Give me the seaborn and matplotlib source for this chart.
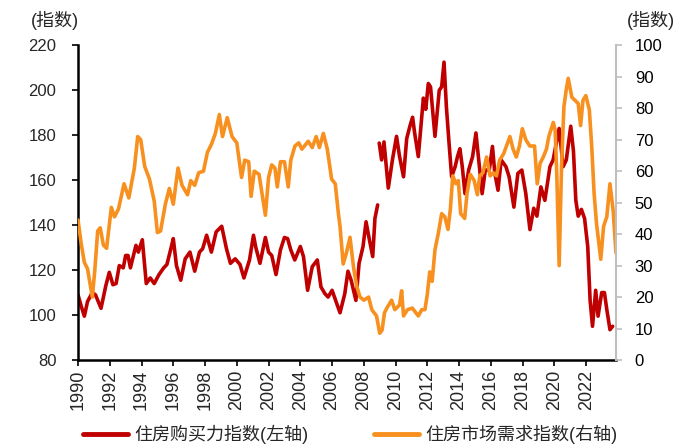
import matplotlib
matplotlib.use("Agg")
import matplotlib.pyplot as plt
from matplotlib.lines import Line2D
import numpy as np
import pandas as pd
import seaborn as sns

# 住房购买力指数 (left axis), decimal years; NaN marks the break in 2008/2009
red_years = [1990.0, 1990.2, 1990.4, 1990.6, 1990.9, 1991.1, 1991.45, 1991.75, 1991.97, 1992.2,
             1992.4, 1992.6, 1992.85, 1993.0, 1993.15, 1993.3, 1993.65, 1993.8, 1994.05, 1994.3,
             1994.55, 1994.8, 1995.1, 1995.4, 1995.6, 1995.9, 1996.0, 1996.2, 1996.47, 1996.75,
             1997.05, 1997.35, 1997.65, 1997.85, 1998.1, 1998.4, 1998.7, 1999.05, 1999.35, 1999.6,
             1999.9, 2000.2, 2000.45, 2000.8, 2001.05, 2001.2, 2001.46, 2001.8, 2002.0, 2002.2,
             2002.47, 2002.75, 2003.0, 2003.2, 2003.4, 2003.65, 2004.0, 2004.2, 2004.46, 2004.75,
             2005.07, 2005.3, 2005.55, 2005.75, 2006.0, 2006.3, 2006.5, 2006.8, 2007.0, 2007.2,
             2007.5, 2007.7, 2007.95, 2008.14, 2008.35, 2008.56, 2008.7, 2008.87, 2008.92, 2008.97,
             2009.12, 2009.27, 2009.54, 2009.8, 2010.06, 2010.25, 2010.5, 2010.7, 2010.9, 2011.07,
             2011.2, 2011.43, 2011.75, 2011.9, 2012.06, 2012.2, 2012.48, 2012.75, 2012.9, 2013.05,
             2013.2, 2013.35, 2013.53, 2013.75, 2013.9, 2014.05, 2014.2, 2014.37, 2014.6, 2014.85,
             2015.06, 2015.3, 2015.45, 2015.65, 2015.9, 2016.1, 2016.25, 2016.45, 2016.65, 2016.95,
             2017.15, 2017.45, 2017.7, 2017.95, 2018.2, 2018.46, 2018.7, 2018.9, 2019.15, 2019.4,
             2019.72, 2019.92, 2020.08, 2020.3, 2020.55, 2020.75, 2021.03, 2021.2, 2021.35, 2021.5,
             2021.7, 2021.9, 2022.1, 2022.25, 2022.4, 2022.6, 2022.75, 2022.98, 2023.15, 2023.3,
             2023.5, 2023.67]
red_vals = [109, 104, 99.5, 106, 110, 109, 103, 113, 119, 113.5,
            114, 122, 121, 126.5, 126.5, 121, 131, 128, 133.5, 114,
            116.5, 114, 118, 121, 122.5, 131, 134, 122, 115.5, 125,
            128, 119.5, 128, 129.5, 135.5, 128, 137, 139.5, 129.5, 123,
            125, 122.5, 116.5, 124.5, 135.5, 130, 123, 134.5, 128, 126.5,
            118, 129, 134.5, 134, 129, 124.5, 130.5, 126, 111, 121.5,
            124.5, 112.5, 109.5, 108, 111, 105, 101, 109.5, 119.5, 115.5,
            106.5, 123, 130.5, 141.5, 133.5, 126, 143, 149, np.nan, 176.5,
            169, 177, 156.5, 169, 179.5, 170.5, 161.5, 178.5, 184, 188,
            181, 170.5, 196.5, 191.5, 203, 201.5, 179.5, 200, 201.5, 212.5,
            192.5, 178, 161.5, 166, 170.5, 174, 166, 154, 164.5, 170.5,
            181, 164.5, 154, 164.5, 164.5, 175, 163, 155.5, 169, 166,
            161.5, 148, 163, 164.5, 154, 138, 147.5, 144, 157, 151,
            166, 169, 175, 183, 166, 169, 184, 173, 151, 144,
            147, 143, 130.5, 106.5, 95, 111, 99.5, 110, 110, 102.5,
            93.5, 95]

# 住房市场需求指数 (right axis)
orange_years = [1990.0, 1990.2, 1990.4, 1990.6, 1990.9, 1991.05, 1991.24, 1991.4, 1991.6, 1991.8,
                1992.1, 1992.3, 1992.55, 1992.9, 1993.2, 1993.55, 1993.76, 1993.95, 1994.2, 1994.5,
                1994.8, 1995.0, 1995.2, 1995.5, 1995.75, 1996.0, 1996.3, 1996.55, 1996.9, 1997.1,
                1997.35, 1997.6, 1997.9, 1998.15, 1998.4, 1998.65, 1998.9, 1999.1, 1999.4, 1999.7,
                2000.0, 2000.3, 2000.5, 2000.75, 2000.9, 2001.1, 2001.4, 2001.8, 2002.0, 2002.2,
                2002.4, 2002.55, 2002.75, 2003.0, 2003.24, 2003.4, 2003.66, 2003.9, 2004.1, 2004.5,
                2004.75, 2005.0, 2005.2, 2005.45, 2005.7, 2005.97, 2006.2, 2006.4, 2006.5, 2006.7,
                2006.9, 2007.13, 2007.35, 2007.55, 2007.76, 2008.0, 2008.3, 2008.5, 2008.8, 2009.0,
                2009.15, 2009.3, 2009.45, 2009.75, 2009.95, 2010.25, 2010.38, 2010.5, 2010.75, 2011.05,
                2011.43, 2011.65, 2011.85, 2012.0, 2012.15, 2012.3, 2012.48, 2012.7, 2012.9, 2013.1,
                2013.3, 2013.45, 2013.6, 2013.8, 2013.95, 2014.1, 2014.35, 2014.5, 2014.7, 2014.95,
                2015.15, 2015.3, 2015.5, 2015.73, 2015.95, 2016.15, 2016.35, 2016.55, 2016.8, 2017.05,
                2017.2, 2017.4, 2017.6, 2017.8, 2017.98, 2018.2, 2018.45, 2018.75, 2018.92, 2019.1,
                2019.3, 2019.5, 2019.65, 2019.93, 2020.05, 2020.15, 2020.3, 2020.45, 2020.6, 2020.75,
                2020.87, 2021.1, 2021.3, 2021.5, 2021.65, 2021.8, 2021.98, 2022.2, 2022.35, 2022.5,
                2022.65, 2022.92, 2023.1, 2023.3, 2023.5, 2023.7, 2023.88]
orange_vals = [44.5, 37, 31, 29, 20, 28, 41, 42, 36.5, 35.5,
               48.5, 45.5, 48, 56, 51.5, 61, 71, 70, 61.5, 57.5,
               50.5, 40.5, 41, 49.5, 54.5, 49.5, 61, 55.5, 52.5, 57,
               55.5, 59.5, 60, 66, 68.5, 72, 78, 71, 77, 71,
               69, 58, 63.5, 63, 52, 60, 59, 46, 58, 62,
               61, 55, 63, 63, 55, 63.5, 68, 69, 67, 69.5,
               67.5, 71, 67.5, 72, 67, 57.5, 56, 46.5, 42.5, 30.5,
               34, 39, 29.5, 23.5, 20, 19, 20, 16, 14, 8.5,
               9.5, 15, 16.5, 19, 16, 17.5, 22, 14, 16, 16.5,
               14, 16, 16, 21, 28, 25, 35, 40.5, 46.5, 45.5,
               41.5, 48, 58.5, 56, 57, 46.5, 45, 53, 59, 57,
               52.5, 58.5, 59.5, 64.5, 58.5, 59.5, 58.5, 63.5, 65.5, 69,
               71, 67, 64.5, 68, 73.5, 70, 68, 68, 56, 62.5,
               64.5, 67, 71, 75.5, 73, 59, 30, 61.5, 80.5, 86,
               89.5, 83.5, 82.5, 81.5, 74.5, 82.5, 84, 79.5, 68, 53,
               43.5, 32, 42.5, 45.5, 56, 47.5, 34]

x_ticks = list(range(1990, 2023, 2))
left_ticks = list(range(80, 221, 20))
right_ticks = list(range(0, 101, 10))
series_labels = ["住房购买力指数(左轴)", "住房市场需求指数(右轴)"]
unit_label = "(指数)"

red = "#C00000"
orange = "#F7901E"

sns.set_style("ticks")
plt.rcParams["font.family"] = ["Liberation Sans", "Noto Sans CJK SC", "DejaVu Sans"]

fig = plt.figure(figsize=(6.89, 4.48), dpi=100)
ax = fig.add_axes([78 / 689, 1 - 360 / 448, (616 - 78) / 689, (360 - 45.3) / 448])
ax2 = ax.twinx()

df_red = pd.DataFrame({"year": red_years, "value": red_vals})
df_red["seg"] = df_red["value"].isna().cumsum()
df_red = df_red.dropna()
sns.lineplot(data=df_red, x="year", y="value", units="seg", estimator=None,
             color=red, lw=2.6, ax=ax)

df_orange = pd.DataFrame({"year": orange_years, "value": orange_vals})
sns.lineplot(data=df_orange, x="year", y="value", estimator=None,
             color=orange, lw=2.6, ax=ax2)

ax.set_xlim(1990, 2023.88)
ax.set_ylim(80, 220)
ax2.set_ylim(0, 100)
ax.set_xticks(x_ticks)
ax.set_xticklabels([str(y) for y in x_ticks], rotation=90, fontsize=13)
ax.set_yticks(left_ticks)
ax2.set_yticks(right_ticks)
for a in (ax, ax2):
    a.set_xlabel("")
    a.set_ylabel("")

ax.tick_params(axis="y", direction="out", length=4.5, width=1.2, color="black",
               pad=11, labelsize=12)
ax.tick_params(axis="x", direction="out", length=4, width=1.2, color="black",
               pad=3)
ax2.tick_params(axis="y", direction="out", length=4.5, width=1.2, color="#BFBFBF",
                labelcolor="black", pad=9, labelsize=12)

for spine in ["top", "right"]:
    ax.spines[spine].set_visible(False)
for spine in ["top", "left", "bottom"]:
    ax2.spines[spine].set_visible(False)
ax.spines["left"].set_color("black")
ax.spines["left"].set_linewidth(1.8)
ax.spines["bottom"].set_color("black")
ax.spines["bottom"].set_linewidth(1.8)
ax2.spines["right"].set_color("#BFBFBF")
ax2.spines["right"].set_linewidth(1.5)

fig.text(55 / 689, 1 - 20 / 448, unit_label, ha="center", va="center", fontsize=13)
fig.text(651 / 689, 1 - 20 / 448, unit_label, ha="center", va="center", fontsize=13)

handles = [Line2D([], [], color=red, lw=3.5), Line2D([], [], color=orange, lw=3.5)]
fig.legend(handles, series_labels, loc="center", bbox_to_anchor=(0.508, 0.03), ncol=2,
           frameon=False, fontsize=13, handlelength=2.5, handletextpad=0.35,
           columnspacing=3.6)

fig.savefig("out.png", dpi=100)
